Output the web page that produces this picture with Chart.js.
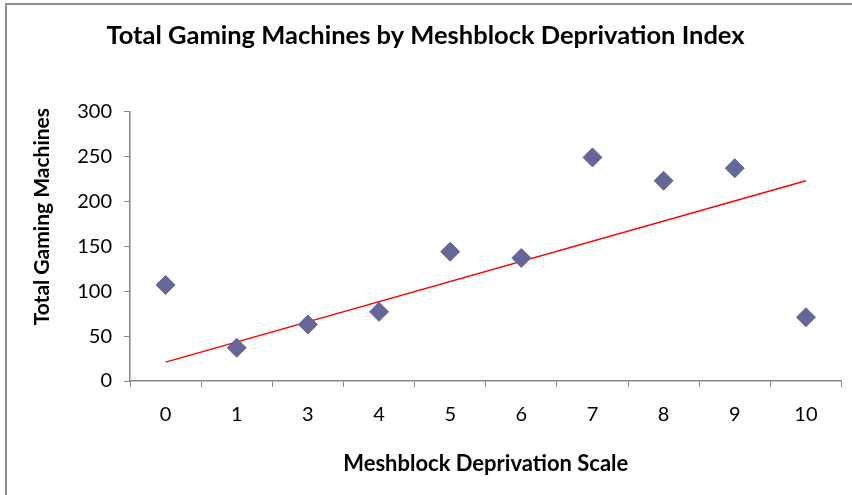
<!DOCTYPE html>
<html>
<head>
<meta charset="utf-8">
<script src="https://cdn.jsdelivr.net/npm/chart.js@4.4.0/dist/chart.umd.min.js"></script>
<style>
  html, body { margin: 0; padding: 0; background: #fff; }
  #wrap { position: relative; width: 852px; height: 495px; }
  #frame { position: absolute; left: 5px; top: 3px; width: 860px; height: 520px;
           border-left: 2px solid #8c8c8c; border-top: 2px solid #8c8c8c; }
  canvas { position: absolute; left: 0; top: 0; }
</style>
</head>
<body>
<div id="wrap">
  <div id="frame"></div>
  <canvas id="chart" width="852" height="495"></canvas>
</div>
<script>
const categories = ['0', '1', '3', '4', '5', '6', '7', '8', '9', '10'];
const machines = [107, 37, 63, 77, 144, 137, 249, 223, 237, 71];
// trend line end points
const trendStart = 21;
const trendEnd = 223;
const yTicks = [0, 50, 100, 150, 200, 250, 300];
const yTitle = 'Total Gaming Machines';

const fontFamily = 'Lato, "Open Sans", sans-serif';
const axisGray = '#868686';

const trendData = categories.map((c, i) =>
  i === 0 ? trendStart : (i === categories.length - 1 ? trendEnd : null));

// y axis title, placed a bit above the axis middle like the original
const yTitlePlugin = {
  id: 'yTitle',
  afterDraw(chart) {
    const ctx = chart.ctx;
    const area = chart.chartArea;
    ctx.save();
    ctx.translate(42, area.top + (area.bottom - area.top) * 0.39);
    ctx.rotate(-Math.PI / 2);
    ctx.font = 'bold 21px ' + fontFamily;
    ctx.fillStyle = '#000';
    ctx.textAlign = 'center';
    ctx.textBaseline = 'middle';
    ctx.fillText(yTitle, 0, 0);
    ctx.restore();
  }
};

const config = {
  type: 'line',
  data: {
    labels: categories,
    datasets: [
      {
        label: 'Total Gaming Machines',
        data: machines,
        showLine: false,
        pointStyle: 'rectRot',
        pointRadius: 9.5,
        pointBackgroundColor: '#666699',
        pointBorderColor: '#666699',
        pointBorderWidth: 1,
        order: 1
      },
      {
        label: 'Trend',
        data: trendData,
        spanGaps: true,
        borderColor: '#ff0000',
        borderWidth: 1.5,
        pointRadius: 0,
        order: 2
      }
    ]
  },
  options: {
    responsive: false,
    animation: false,
    layout: { padding: { left: 6, right: 7, top: 0, bottom: 0 } },
    plugins: {
      legend: { display: false },
      tooltip: { enabled: false },
      title: {
        display: true,
        text: 'Total Gaming Machines by Meshblock Deprivation Index',
        color: '#000',
        font: { family: fontFamily, size: 25.5, weight: 'bold' },
        padding: { top: 20, bottom: 61 }
      }
    },
    scales: {
      x: {
        type: 'category',
        offset: true,
        grid: { offset: true, drawOnChartArea: false, color: axisGray, tickLength: 6 },
        border: { color: axisGray, width: 1.5 },
        ticks: { color: '#000', padding: 16, font: { family: fontFamily, size: 20 } },
        title: {
          display: true,
          text: 'Meshblock Deprivation Scale',
          color: '#000',
          font: { family: fontFamily, size: 22, weight: 'bold' },
          padding: { top: 0, bottom: 18 }
        },
        afterFit: function(scale) { scale.height = 114; }
      },
      y: {
        min: 0,
        max: 300,
        afterBuildTicks: function(scale) { scale.ticks = yTicks.map(v => ({ value: v })); },
        grid: { drawOnChartArea: false, color: axisGray, tickLength: 6 },
        border: { color: axisGray, width: 1.5 },
        ticks: { color: '#000', padding: 12, font: { family: fontFamily, size: 20 } },
        afterFit: function(scale) { scale.width = 124; }
      }
    }
  },
  plugins: [yTitlePlugin]
};

new Chart(document.getElementById('chart').getContext('2d'), config);
</script>
</body>
</html>
